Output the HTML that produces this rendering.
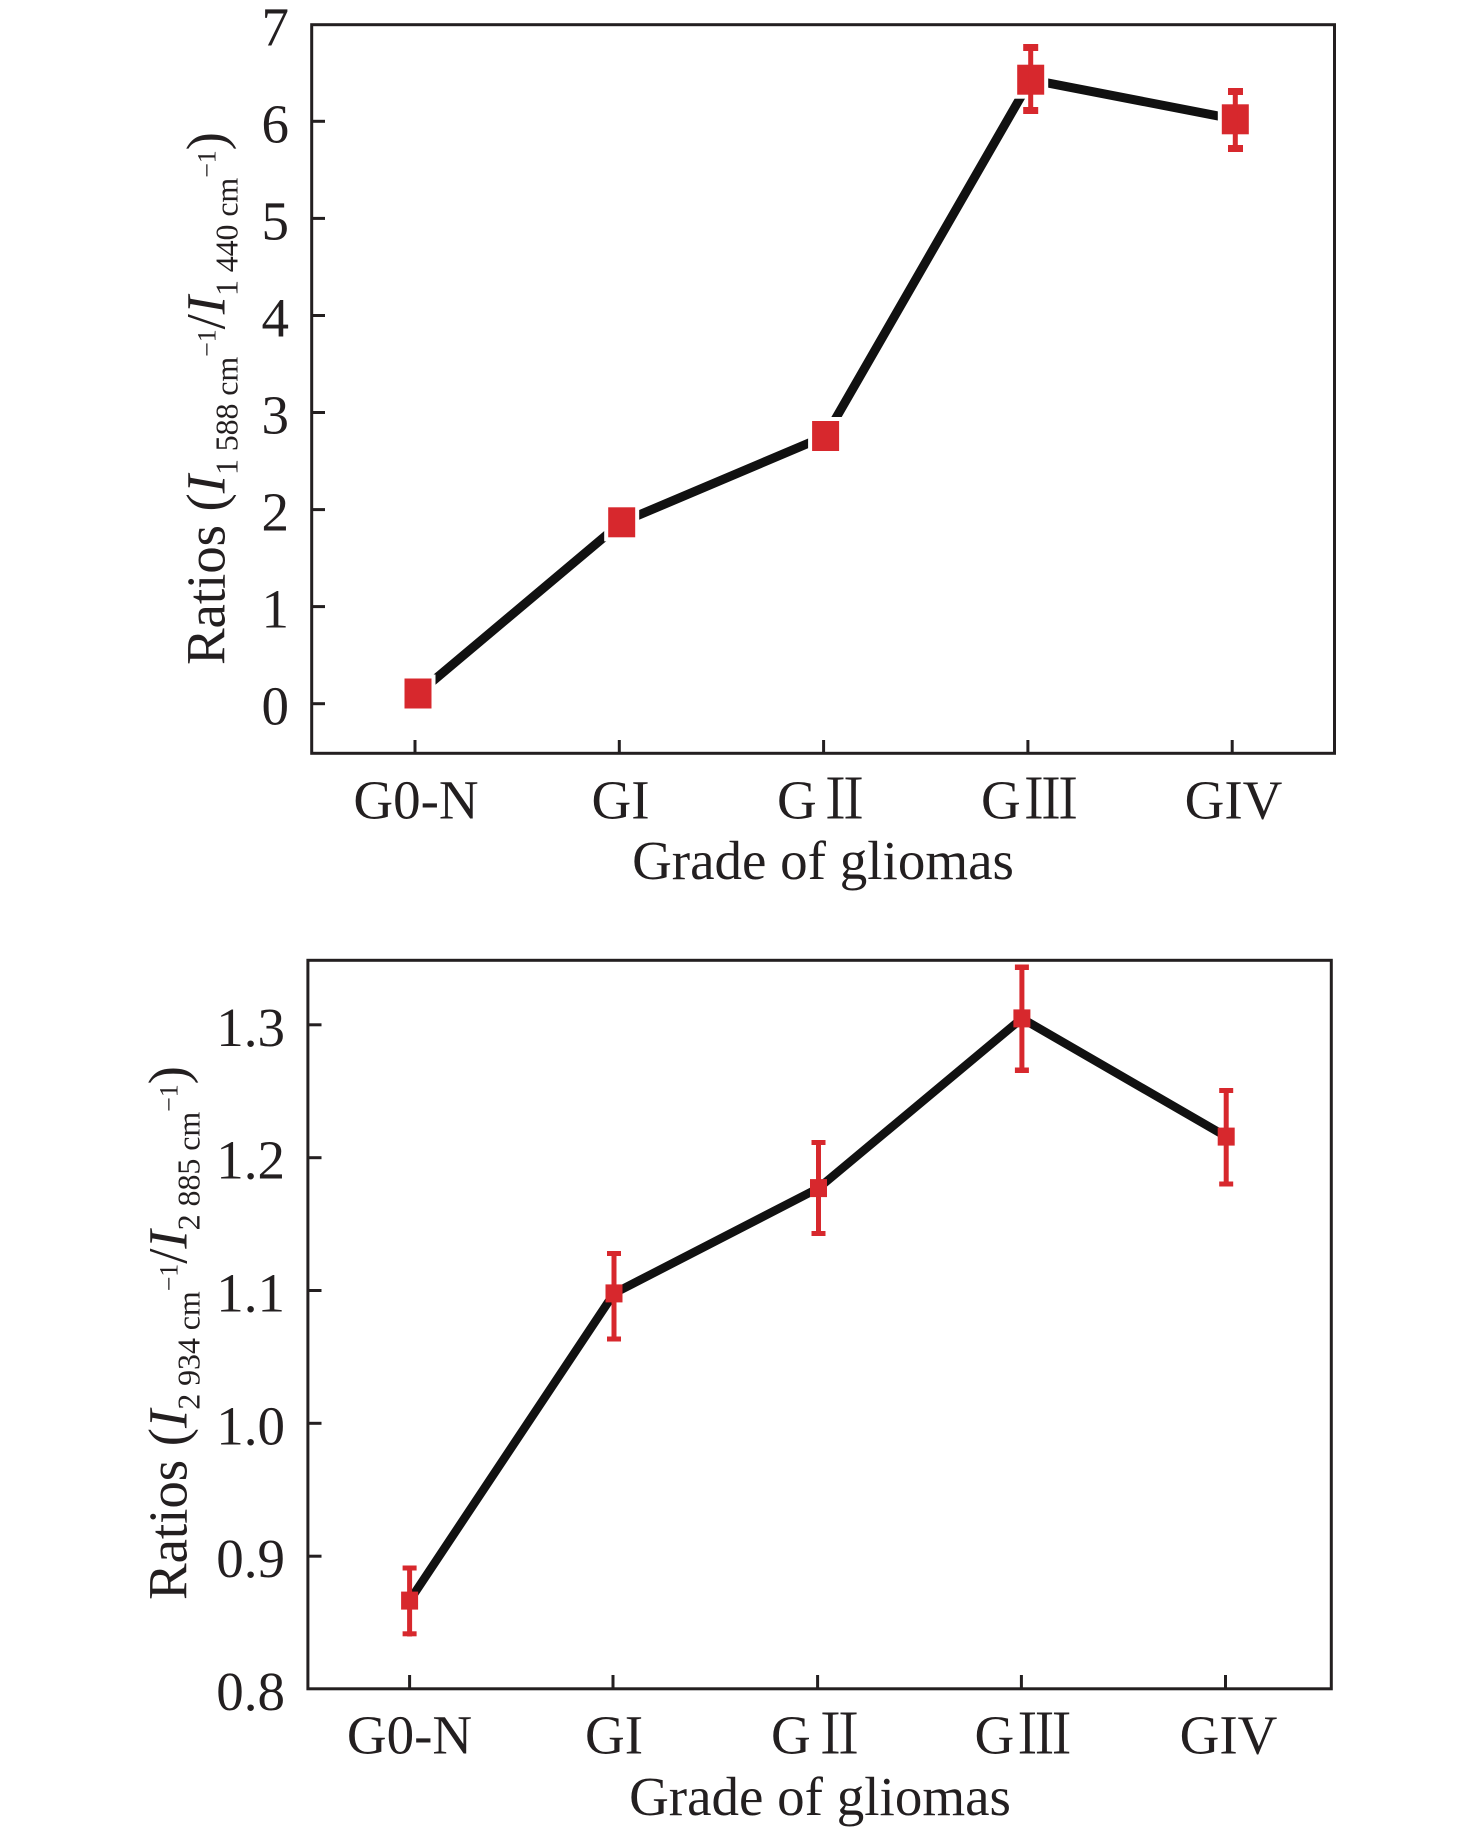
<!DOCTYPE html>
<html>
<head>
<meta charset="utf-8">
<style>
html,body{margin:0;padding:0;background:#fff;}
svg{display:block;}
text{font-family:"Liberation Serif","Noto Serif CJK SC",serif;fill:#231f20;}
</style>
</head>
<body>
<svg width="1476" height="1832" viewBox="0 0 1476 1832" xmlns="http://www.w3.org/2000/svg">
<rect x="0" y="0" width="1476" height="1832" fill="#fff"/>

<!-- ================= TOP PLOT ================= -->
<g>
  <polyline points="418,693.5 621.7,522.3 825.6,436 1030.7,79.7 1235.3,119.3" fill="none" stroke="#111" stroke-width="9" stroke-linejoin="miter"/>
  <g fill="#fff">
    <rect x="400.5" y="674.5" width="35" height="38"/>
    <rect x="604.2" y="503.3" width="35" height="38"/>
    <rect x="808.1" y="417" width="35" height="38"/>
    <rect x="1013.2" y="60.7" width="35" height="38"/>
    <rect x="1217.8" y="100.3" width="35" height="38"/>
  </g>
  <g fill="#d7282d">
    <rect x="404.5" y="678.5" width="27" height="30"/>
    <rect x="608.2" y="507.3" width="27" height="30"/>
    <rect x="812.1" y="421" width="27" height="30"/>
    <rect x="1017.2" y="64.7" width="27" height="30"/>
    <rect x="1221.8" y="104.3" width="27" height="30"/>
    <rect x="1028.2" y="44" width="5" height="70"/>
    <rect x="1023.2" y="44" width="15" height="7"/>
    <rect x="1023.2" y="107" width="15" height="7"/>
    <rect x="1232.8" y="88" width="5" height="64"/>
    <rect x="1228" y="88" width="15" height="7"/>
    <rect x="1228" y="145" width="15" height="7"/>
  </g>
  <rect x="311.7" y="24.7" width="1022.8" height="728.6" fill="none" stroke="#231f20" stroke-width="3"/>
  <g stroke="#231f20" stroke-width="3">
    <line x1="311.7" y1="703.7" x2="325" y2="703.7"/>
    <line x1="311.7" y1="606.6" x2="325" y2="606.6"/>
    <line x1="311.7" y1="509.6" x2="325" y2="509.6"/>
    <line x1="311.7" y1="412.5" x2="325" y2="412.5"/>
    <line x1="311.7" y1="315.5" x2="325" y2="315.5"/>
    <line x1="311.7" y1="218.4" x2="325" y2="218.4"/>
    <line x1="311.7" y1="121.3" x2="325" y2="121.3"/>
    <line x1="415" y1="753.3" x2="415" y2="740"/>
    <line x1="619.3" y1="753.3" x2="619.3" y2="740"/>
    <line x1="823.6" y1="753.3" x2="823.6" y2="740"/>
    <line x1="1027.9" y1="753.3" x2="1027.9" y2="740"/>
    <line x1="1232.2" y1="753.3" x2="1232.2" y2="740"/>
  </g>
  <g font-size="55" text-anchor="end">
    <text x="289" y="724.7">0</text>
    <text x="289" y="627.6">1</text>
    <text x="289" y="530.6">2</text>
    <text x="289" y="433.5">3</text>
    <text x="289" y="336.5">4</text>
    <text x="289" y="239.4">5</text>
    <text x="289" y="142.3">6</text>
    <text x="289" y="45.3">7</text>
  </g>
  <g font-size="55">
    <text x="416" y="818.3" text-anchor="middle">G0-N</text>
    <text x="620.5" y="818.3" text-anchor="middle">GI</text>
    <text x="777" y="818.3">G</text>
    <text x="844.5" y="818.3" text-anchor="middle" font-family="'Noto Serif CJK SC',serif">Ⅱ</text>
    <text x="981" y="818.3">G</text>
    <text x="1051" y="818.3" text-anchor="middle" font-family="'Noto Serif CJK SC',serif">Ⅲ</text>
    <text x="1233.5" y="818.3" text-anchor="middle">GIV</text>
  </g>
  <text x="823" y="879" font-size="55" text-anchor="middle">Grade of gliomas</text>
  <g transform="translate(224.5,665) rotate(-90)">
    <text x="0" y="0" font-size="55" textLength="533" lengthAdjust="spacing">Ratios (<tspan font-style="italic">I</tspan><tspan font-size="32" dy="13">1 588 cm</tspan><tspan font-size="26" dy="-22">−1</tspan><tspan dy="9">/</tspan><tspan font-style="italic">I</tspan><tspan font-size="32" dy="13">1 440 cm</tspan><tspan font-size="26" dy="-22">−1</tspan><tspan dy="9">)</tspan></text>
  </g>
</g>

<!-- ================= BOTTOM PLOT ================= -->
<g>
  <polyline points="409.6,1600.6 614,1293.4 818.5,1188.1 1021.9,1018.4 1226.2,1136.6" fill="none" stroke="#111" stroke-width="8.5" stroke-linejoin="miter"/>
  <g fill="#d7282d">
    <rect x="407.1" y="1565.5" width="5" height="71"/>
    <rect x="402.6" y="1565.5" width="14" height="5"/>
    <rect x="402.6" y="1631.3" width="14" height="5"/>
    <rect x="401.1" y="1591.6" width="17" height="18"/>
    <rect x="611.5" y="1251" width="5" height="90.5"/>
    <rect x="607" y="1251" width="14" height="5"/>
    <rect x="607" y="1336.5" width="14" height="5"/>
    <rect x="605.5" y="1284.4" width="17" height="18"/>
    <rect x="816" y="1140" width="5" height="96"/>
    <rect x="811.5" y="1140" width="14" height="5"/>
    <rect x="811.5" y="1231" width="14" height="5"/>
    <rect x="810" y="1179.1" width="17" height="18"/>
    <rect x="1019.4" y="964.5" width="5" height="108.5"/>
    <rect x="1014.9" y="964.5" width="14" height="5.5"/>
    <rect x="1014.9" y="1067.5" width="14" height="5.5"/>
    <rect x="1013.4" y="1009.4" width="17" height="18"/>
    <rect x="1223.7" y="1088" width="5" height="98.5"/>
    <rect x="1219.2" y="1088" width="14" height="5"/>
    <rect x="1219.2" y="1181.5" width="14" height="5"/>
    <rect x="1217.7" y="1127.6" width="17" height="18"/>
  </g>
  <rect x="307.9" y="960.3" width="1023.4" height="728.5" fill="none" stroke="#231f20" stroke-width="3"/>
  <g stroke="#231f20" stroke-width="3">
    <line x1="307.9" y1="1556.2" x2="321.5" y2="1556.2"/>
    <line x1="307.9" y1="1423.3" x2="321.5" y2="1423.3"/>
    <line x1="307.9" y1="1290.5" x2="321.5" y2="1290.5"/>
    <line x1="307.9" y1="1157.7" x2="321.5" y2="1157.7"/>
    <line x1="307.9" y1="1024.8" x2="321.5" y2="1024.8"/>
    <line x1="409.6" y1="1688.8" x2="409.6" y2="1675"/>
    <line x1="613" y1="1688.8" x2="613" y2="1675"/>
    <line x1="817.6" y1="1688.8" x2="817.6" y2="1675"/>
    <line x1="1021.4" y1="1688.8" x2="1021.4" y2="1675"/>
    <line x1="1225.5" y1="1688.8" x2="1225.5" y2="1675"/>
  </g>
  <g font-size="55" text-anchor="end">
    <text x="285" y="1710">0.8</text>
    <text x="285" y="1577.2">0.9</text>
    <text x="285" y="1444.3">1.0</text>
    <text x="285" y="1311.5">1.1</text>
    <text x="285" y="1178.7">1.2</text>
    <text x="285" y="1045.8">1.3</text>
  </g>
  <g font-size="55">
    <text x="409.5" y="1753.5" text-anchor="middle">G0-N</text>
    <text x="614" y="1753.5" text-anchor="middle">GI</text>
    <text x="771" y="1753.5">G</text>
    <text x="839.5" y="1753.5" text-anchor="middle" font-family="'Noto Serif CJK SC',serif">Ⅱ</text>
    <text x="974.5" y="1753.5">G</text>
    <text x="1044.5" y="1753.5" text-anchor="middle" font-family="'Noto Serif CJK SC',serif">Ⅲ</text>
    <text x="1228.5" y="1753.5" text-anchor="middle">GIV</text>
  </g>
  <text x="820" y="1815" font-size="55" text-anchor="middle">Grade of gliomas</text>
  <g transform="translate(186.5,1600) rotate(-90)">
    <text x="0" y="0" font-size="55" textLength="534" lengthAdjust="spacing">Ratios (<tspan font-style="italic">I</tspan><tspan font-size="32" dy="13">2 934 cm</tspan><tspan font-size="26" dy="-22">−1</tspan><tspan dy="9">/</tspan><tspan font-style="italic">I</tspan><tspan font-size="32" dy="13">2 885 cm</tspan><tspan font-size="26" dy="-22">−1</tspan><tspan dy="9">)</tspan></text>
  </g>
</g>
</svg>
</body>
</html>
